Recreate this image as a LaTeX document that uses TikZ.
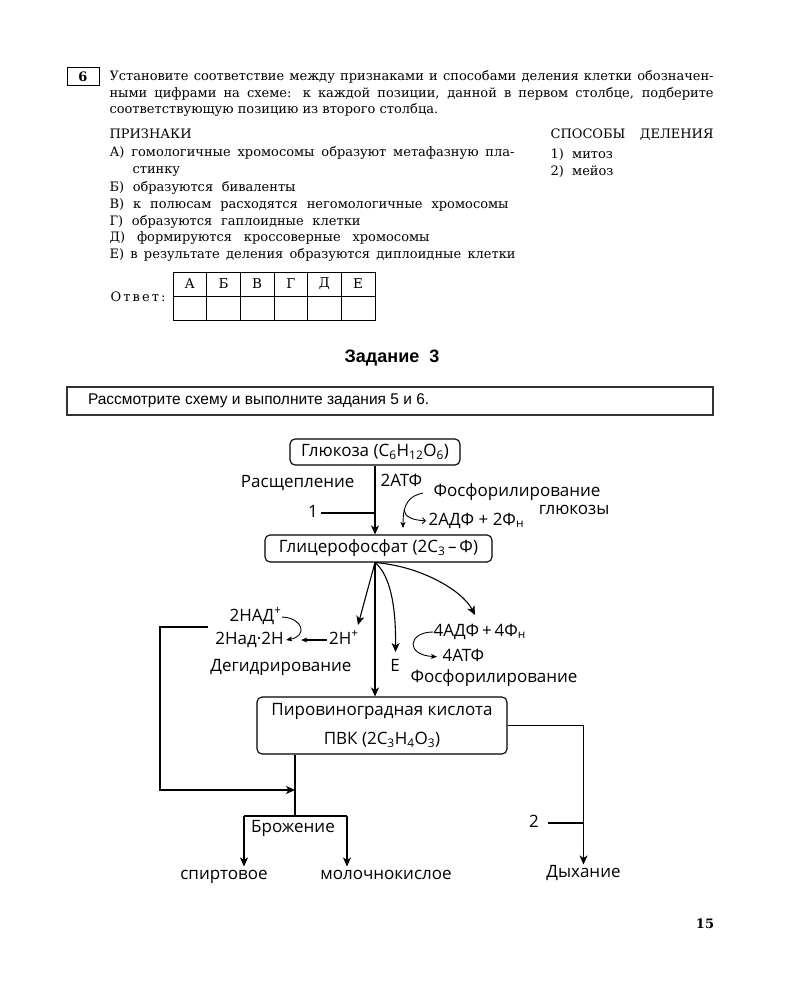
\documentclass[tikz,border=0pt]{standalone}
\usepackage{fontspec}
\setmainfont{DejaVu Serif}
\setsansfont{Open Sans}
\newfontfamily\taskfont{Liberation Sans}
\usetikzlibrary{arrows.meta}

\tikzset{
  txt/.style={anchor=west, inner sep=0pt, text height=10pt, text depth=3pt, font=\fontsize{13}{15}\selectfont},
  lbl/.style={inner sep=0pt, text height=12pt, text depth=4pt, font=\sffamily\fontsize{17}{20}\selectfont},
  stagebox/.style={draw, rounded corners=5pt, inner sep=0pt, align=center, font=\sffamily\fontsize{17}{29}\selectfont},
  big/.style={-{Stealth[length=9pt, width=8pt, inset=2.5pt]}},
  small/.style={-{Stealth[length=6pt, width=5pt, inset=1.5pt]}},
  barb/.style={-{Straight Barb[length=3pt, width=6pt]}}
}

\begin{document}
\begin{tikzpicture}[x=1pt, y=-1pt, line width=1.1pt]
	\fill[white] (0,0) rectangle (800,1000);

	% question 6
	\node[draw, line width=1pt, minimum width=32pt, minimum height=18pt, inner sep=0pt, font=\bfseries\fontsize{13}{15}\selectfont] (num) at (83,77) {6};
	\node[txt] (q1) at (109,77) {\makebox[604pt][s]{Установите соответствие между признаками и способами деления клетки обозначен-}};
	\node[txt] (q2) at (109,94) {\makebox[604pt][s]{ными цифрами на схеме: к каждой позиции, данной в первом столбце, подберите}};
	\node[txt] (q3) at (109,110) {соответствующую позицию из второго столбца.};

	\node[txt] (signs) at (109,135) {ПРИЗНАКИ};
	\node[txt] (ways) at (550,135) {\makebox[163pt][s]{СПОСОБЫ ДЕЛЕНИЯ}};

	\node[txt] (sa) at (109,153) {\makebox[405pt][s]{А) гомологичные хромосомы образуют метафазную пла-}};
	\node[txt] (sa2) at (132,170) {стинку};
	\node[txt] (sb) at (109,188) {\makebox[186pt][s]{Б) образуются биваленты}};
	\node[txt] (sv) at (109,205) {\makebox[399pt][s]{В) к полюсам расходятся негомологичные хромосомы}};
	\node[txt] (sg) at (109,222) {\makebox[251pt][s]{Г) образуются гаплоидные клетки}};
	\node[txt] (sd) at (109,238) {\makebox[320pt][s]{Д) формируются кроссоверные хромосомы}};
	\node[txt] (se) at (109,255) {\makebox[406pt][s]{Е) в результате деления образуются диплоидные клетки}};

	\node[txt] (w1) at (550,155) {1)\ \ митоз};
	\node[txt] (w2) at (550,172) {2)\ \ мейоз};

	% answer table
	\node[txt] (answer) at (108,298) {\makebox[59pt]{О\hfil т\hfil в\hfil е\hfil т\hfil :}};
	\draw[line width=0.8pt] (173,272) rectangle (375,320);
	\draw[line width=0.8pt] (173,296) -- (375,296);
	\foreach \i in {1,...,5}
		\draw[line width=0.8pt] (173+33.67*\i,272) -- (173+33.67*\i,320);
	\foreach \c [count=\i from 0] in {А,Б,В,Г,Д,Е}
		\node[inner sep=0pt, font=\fontsize{13.5}{15}\selectfont] (head\i) at (189.8+33.67*\i,284) {\c};

	% task 3
	\node[font=\taskfont\bfseries\fontsize{18}{20}\selectfont] (task) at (392,358) {Задание\ \ 3};
	\node[draw=black!80, line width=1.1pt, minimum width=646pt, minimum height=28pt, inner sep=0pt] (frame) at (390,401) {};
	\node[anchor=west, inner sep=0pt, font=\taskfont\fontsize{15.5}{17}\selectfont] (look) at ([xshift=21pt]frame.west) {Рассмотрите схему и выполните задания 5 и 6.};

	% scheme
	\node[stagebox, minimum width=170pt, minimum height=26pt] (glu) at (375,452) {Глюкоза (C\textsubscript{6}H\textsubscript{12}O\textsubscript{6})};
	\node[stagebox, minimum width=227pt, minimum height=27pt] (gly) at (378.5,548.5) {Глицерофосфат (2C\textsubscript{3}\,–\,Ф)};
	\node[stagebox, minimum width=250pt, minimum height=57pt] (pvk) at (382,725.5) {Пировиноградная кислота\\ПВК (2C\textsubscript{3}H\textsubscript{4}O\textsubscript{3})};

	\node[lbl, anchor=east] (split) at (355,483) {Расщепление};
	\node[lbl, anchor=west] (atp2) at (380,482) {2АТФ};
	\node[lbl, anchor=west] (fos) at (433,492) {Фосфорилирование};
	\node[lbl, anchor=east] (glz) at (610,510) {глюкозы};
	\node[lbl, anchor=west] (adp2) at (428,521) {2АДФ + 2Ф\textsubscript{н}};
	\node[lbl] (n1) at (313,513) {1};

	\draw[big] (glu.south) -- (glu.south |- gly.north);
	\draw[shorten <=3pt] (n1.east) -- (n1 -| glu.south);

	\coordinate (atpa) at (423,493);
	\coordinate (atpb) at (403,528);
	\coordinate (atpm) at (404,510);
	\draw[small, line width=0.9pt] (atpa) .. controls (410,496) and (403,502) .. (atpb);
	\draw[barb, line width=0.9pt, shorten >=2pt] (atpm) .. controls (405,517) and (412,520) .. (adp2.west);

	\node[lbl] (nad) at (255.5,617) {2НАД\textsuperscript{+}};
	\node[lbl] (nadh) at (249.5,640) {2Над·2Н};
	\node[lbl] (hplus) at (344,640) {2Н\textsuperscript{+}};
	\node[lbl] (degid) at (281,667) {Дегидрирование};
	\node[lbl] (e) at (395,667) {Е};
	\node[lbl, anchor=west] (adf4) at (433,632) {4АДФ\,+\,4Ф\textsubscript{н}};
	\node[lbl, anchor=west] (atp4) at (442,657) {4АТФ};
	\node[lbl, anchor=west] (fos2) at (410,678) {Фосфорилирование};

	\coordinate (fan) at (gly.south -| glu.south);
	\coordinate (hin) at (358,625);
	\coordinate (adin) at (475,615);
	\draw[big] (fan) -- (hin);
	\draw[big] (fan) -- (fan |- pvk.north);
	\draw[big] (fan) .. controls (390,575) and (396,605) .. (395.5,652);
	\draw[big] (fan) .. controls (420,566) and (462,590) .. (adin);

	\draw[small, line width=0.9pt] (nad.east) .. controls (303,618) and (308,636) .. ([xshift=2pt]nadh.east);
	\draw[small, shorten >=17pt, shorten <=2pt] (hplus.west) -- (nadh.east);
	\draw[small, line width=0.9pt, shorten >=5pt] (adf4.west) .. controls (408,632) and (405,655) .. (atp4.west);

	% fermentation and respiration
	\node[lbl] (brozh) at (293,828) {Брожение};
	\node[lbl] (spirt) at (224,875) {спиртовое};
	\node[lbl] (milk) at (386,875) {молочнокислое};
	\node[lbl] (breath) at (583.5,873) {Дыхание};
	\node[lbl] (n2) at (534,823) {2};

	\coordinate (fb) at (208,627);
	\coordinate (join) at (295,790);
	\coordinate (lft) at (244,816);
	\coordinate (rgt) at (347,816);
	\draw[big] (fb) -- ++(-48,0) |- (join);
	\draw (pvk.south -| join) -- (join |- lft);
	\draw (lft) -- (rgt);
	\draw[big] (lft) -- (lft |- spirt.north);
	\draw[big] (rgt) -- (rgt |- milk.north);
	\draw[big] (pvk.east) -| (breath.north);
	\draw[shorten <=9pt] (n2.east) -- (n2 -| breath);

	\node[inner sep=0pt, font=\bfseries\fontsize{13}{15}\selectfont] (page) at (705,924) {15};
\end{tikzpicture}
\end{document}
